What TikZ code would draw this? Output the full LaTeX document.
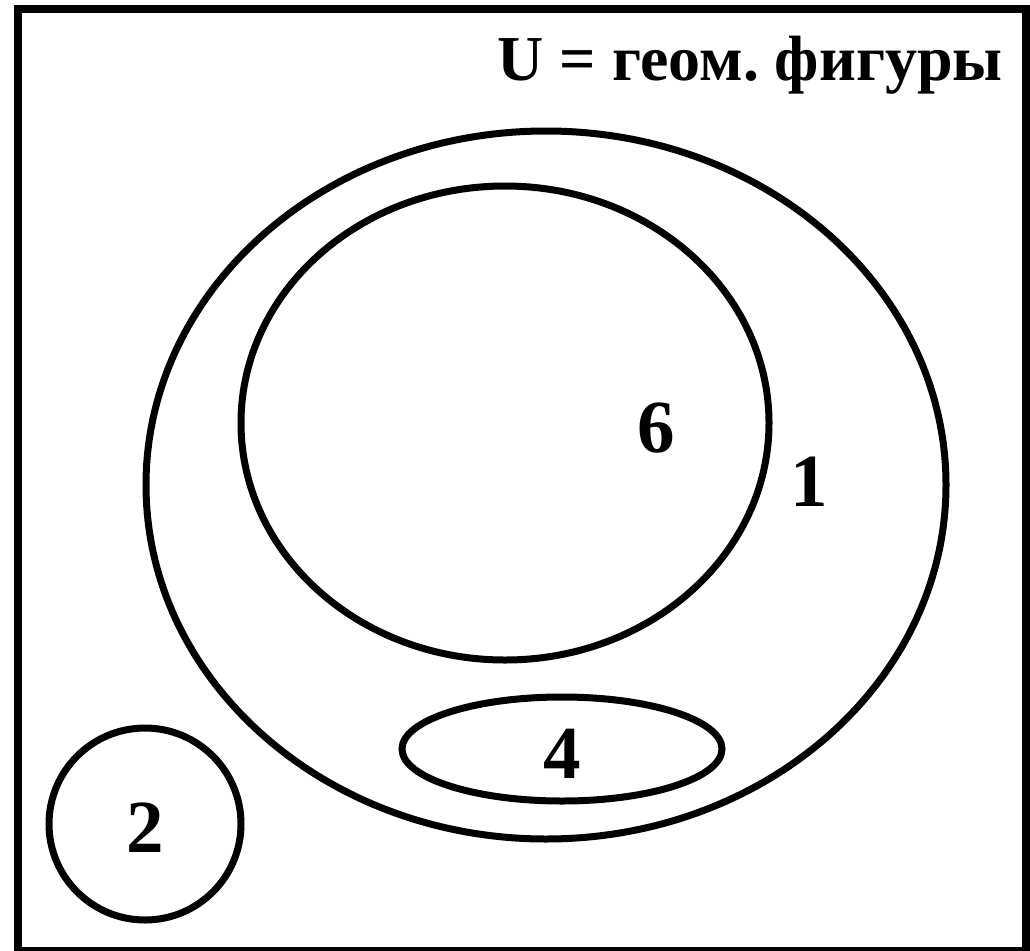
\documentclass[tikz,border=0pt]{standalone}
\usepackage{fontspec}
\setmainfont{Liberation Serif}
\usetikzlibrary{shapes.geometric}
\begin{document}
\frenchspacing
\begin{tikzpicture}[x=1pt,y=-1pt,
  setshape/.style={draw,ellipse,line width=7pt,inner sep=0pt},
  lbl/.style={font=\fontsize{75}{75}\selectfont\bfseries,inner sep=0pt}]
\useasboundingbox (0,0) rectangle (1030,950);
\draw[line width=8pt] (18,9) rectangle (1026,951);
\node[setshape,minimum width=800pt,minimum height=708pt] (U1) at (546,485) {};
\node[setshape,minimum width=528pt,minimum height=474pt] (S6) at (505,423) {};
\node[setshape,minimum width=320pt,minimum height=104pt] (S4) at (562,749) {};
\node[setshape,circle,minimum size=192pt] (S2) at (145,824) {};
\node[lbl] (t6) at (656,428) {6};
\node[lbl] (t1) at (809,482) {1};
\node[lbl] (t4) at (562,754) {4};
\node[lbl] (t2) at (145,828) {2};
\node[font=\fontsize{64}{64}\selectfont\bfseries,inner sep=0pt,anchor=base east] (title) at (1003,81) {U = геом. фигуры};
\end{tikzpicture}
\end{document}
